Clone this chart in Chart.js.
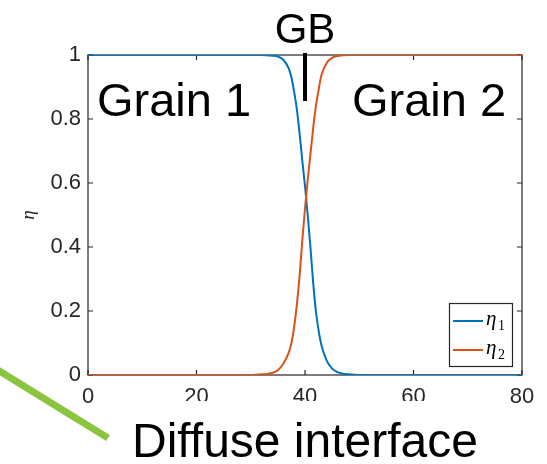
<!DOCTYPE html>
<html>
<head>
<meta charset="utf-8">
<script src="https://cdn.jsdelivr.net/npm/chart.js@4.4.1/dist/chart.umd.min.js"></script>
<style>
  html, body { margin: 0; padding: 0; background: #fff; }
  #wrap { position: relative; width: 547px; height: 464px; }
</style>
</head>
<body>
<div id="wrap"><canvas id="etaChart"></canvas></div>
<script>
// values
const xPos = [0, 10, 20, 30, 31, 32, 33, 34, 35, 36, 37, 37.5, 38, 38.5, 39, 39.5, 40, 40.5,
  41, 41.5, 42, 42.5, 43, 44, 45, 46, 47, 48, 49, 50, 60, 70, 80];
const eta1 = [1, 1, 1, 1, 1, 1, 0.999, 0.998, 0.995, 0.985, 0.958, 0.93, 0.885, 0.83, 0.755, 0.67, 0.59, 0.50,
  0.40, 0.29, 0.20, 0.14, 0.095, 0.045, 0.02, 0.009, 0.004, 0.002, 0.001, 0, 0, 0, 0];
const eta2 = [0, 0, 0, 0, 0.001, 0.002, 0.003, 0.007, 0.015, 0.035, 0.07, 0.10, 0.15, 0.22, 0.31, 0.42, 0.52, 0.61,
  0.69, 0.77, 0.84, 0.89, 0.935, 0.975, 0.991, 0.997, 0.999, 1, 1, 1, 1, 1, 1];
const seriesNames = ['η', 'η'];
const seriesSubs = ['1', '2'];
const seriesColors = ['#0072BD', '#D95319'];
const xTicks = [0, 20, 40, 60, 80];
const yTicks = [0, 0.2, 0.4, 0.6, 0.8, 1];

const sans = '"Liberation Sans", Arial, sans-serif';
const serif = '"Liberation Serif", "Times New Roman", serif';
const axisColor = '#262626';

function points(ys) {
  return xPos.map((x, i) => ({ x: x, y: ys[i] }));
}

// MATLAB style box with inward ticks on all four sides
const axesBox = {
  id: 'axesBox',
  beforeDatasetsDraw(chart) {
    const { ctx, chartArea: a, scales: { x, y } } = chart;
    ctx.save();
    ctx.strokeStyle = axisColor;
    ctx.lineWidth = 1.2;
    ctx.strokeRect(a.left, a.top, a.right - a.left, a.bottom - a.top);
    ctx.beginPath();
    x.ticks.forEach(t => {
      const px = x.getPixelForValue(t.value);
      ctx.moveTo(px, a.bottom); ctx.lineTo(px, a.bottom - 5);
      ctx.moveTo(px, a.top); ctx.lineTo(px, a.top + 5);
    });
    y.ticks.forEach(t => {
      const py = y.getPixelForValue(t.value);
      ctx.moveTo(a.left, py); ctx.lineTo(a.left + 5, py);
      ctx.moveTo(a.right, py); ctx.lineTo(a.right - 5, py);
    });
    ctx.stroke();
    ctx.restore();
  }
};

// legend box and the text/lines laid over the figure
const overlay = {
  id: 'overlay',
  afterDraw(chart) {
    const ctx = chart.ctx;
    ctx.save();

    // white box behind the caption hides the lower part of some x labels
    ctx.fillStyle = '#fff';
    ctx.fillRect(118, 401, 374, 63);

    // legend
    ctx.fillStyle = '#fff';
    ctx.fillRect(449.5, 303.5, 63, 63);
    ctx.strokeStyle = axisColor;
    ctx.lineWidth = 1.2;
    ctx.strokeRect(449.5, 303.5, 63, 63);
    chart.data.datasets.forEach((ds, i) => {
      const ly = 321 + i * 29;
      ctx.strokeStyle = ds.borderColor;
      ctx.lineWidth = 2;
      ctx.beginPath();
      ctx.moveTo(453, ly); ctx.lineTo(483, ly);
      ctx.stroke();
      ctx.fillStyle = '#000';
      ctx.textAlign = 'left';
      ctx.textBaseline = 'alphabetic';
      ctx.font = 'italic 21px ' + serif;
      ctx.fillText(seriesNames[i], 486, ly + 4);
      ctx.font = '14px ' + serif;
      ctx.fillText(seriesSubs[i], 498, ly + 9);
    });

    // annotations
    ctx.fillStyle = '#000';
    ctx.textBaseline = 'alphabetic';
    ctx.textAlign = 'center';
    ctx.font = '42px ' + sans;
    ctx.fillText('GB', 305, 43);
    ctx.strokeStyle = '#000';
    ctx.lineWidth = 4;
    ctx.beginPath();
    ctx.moveTo(305, 53); ctx.lineTo(305, 101);
    ctx.stroke();

    ctx.textAlign = 'left';
    ctx.font = '47px ' + sans;
    ctx.fillText('Grain 1', 97, 116);
    ctx.fillText('Grain 2', 352, 116);
    ctx.font = '48px ' + sans;
    ctx.fillText('Diffuse interface', 132, 457);

    ctx.strokeStyle = '#8BC53F';
    ctx.lineWidth = 7;
    ctx.lineCap = 'butt';
    ctx.beginPath();
    ctx.moveTo(-4, 369); ctx.lineTo(108, 438);
    ctx.stroke();

    ctx.restore();
  }
};

new Chart(document.getElementById('etaChart'), {
  type: 'line',
  data: {
    datasets: [
      { label: 'η1', data: points(eta1), borderColor: seriesColors[0], borderWidth: 2,
        pointRadius: 0, fill: false, cubicInterpolationMode: 'monotone', order: 2 },
      { label: 'η2', data: points(eta2), borderColor: seriesColors[1], borderWidth: 2,
        pointRadius: 0, fill: false, cubicInterpolationMode: 'monotone', order: 1 }
    ]
  },
  options: {
    responsive: true,
    maintainAspectRatio: false,
    animation: false,
    devicePixelRatio: 1,
    layout: { padding: { top: 55, right: 25, left: 0, bottom: 0 } },
    plugins: { legend: { display: false }, tooltip: { enabled: false } },
    scales: {
      x: {
        type: 'linear', min: 0, max: 80,
        grid: { display: false, drawTicks: false },
        border: { display: false },
        afterBuildTicks: s => { s.ticks = xTicks.map(v => ({ value: v })); },
        afterFit: s => { s.height = 89; },
        ticks: { color: axisColor, padding: 9, maxRotation: 0, font: { family: sans, size: 22 } }
      },
      y: {
        min: 0, max: 1,
        grid: { display: false, drawTicks: false },
        border: { display: false },
        afterBuildTicks: s => { s.ticks = yTicks.map(v => ({ value: v })); },
        afterFit: s => { s.width = 88; },
        ticks: { color: axisColor, padding: 7, font: { family: sans, size: 22 },
          callback: v => String(Math.round(v * 10) / 10) },
        title: { display: true, text: 'η', color: axisColor, padding: { top: 18, bottom: 0 },
          font: { family: serif, style: 'italic', size: 19 } }
      }
    }
  },
  plugins: [axesBox, overlay]
});
</script>
</body>
</html>
